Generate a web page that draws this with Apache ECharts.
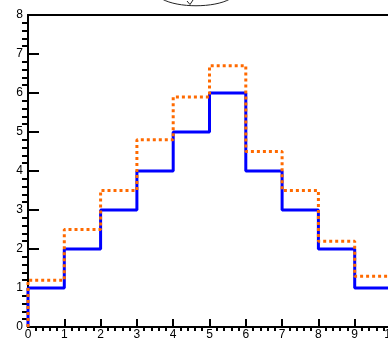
<!DOCTYPE html>
<html><head><meta charset="utf-8">
<script src="https://cdn.jsdelivr.net/npm/echarts@6/dist/echarts.min.js"></script>
<style>html,body{margin:0;padding:0;background:#fff}#c{width:388px;height:340px}</style>
</head><body><div id="c"></div>
<script>
const binEdges = [0,1,2,3,4,5,6,7,8,9,10];
const blueValues = [1,2,3,4,5,6,4,3,2,1];
const orangeValues = [1.2,2.5,3.5,4.8,5.9,6.7,4.5,3.5,2.2,1.3];
const xTicks = [0,1,2,3,4,5,6,7,8,9,10];
const yTicks = [0,1,2,3,4,5,6,7,8];

function histPoints(vals){
  const pts = [[binEdges[0],0]];
  vals.forEach((v,i)=>pts.push([binEdges[i],v]));
  pts.push([binEdges[binEdges.length-1], vals[vals.length-1]]);
  return pts;
}
const chart = echarts.init(document.getElementById('c'), null, {renderer:'canvas'});
const font = 'Liberation Sans, Arial, sans-serif';
const xMin = xTicks[0], xMax = xTicks[xTicks.length-1];
const yMin = yTicks[0], yMax = yTicks[yTicks.length-1];
const blackLine = {color:'#000',width:2};
chart.setOption({
  animation:false,
  grid:{left:28,top:15,width:363,height:312,show:false,containLabel:false,outerBoundsMode:'none'},
  xAxis:[
   {type:'value',position:'bottom',min:xMin,max:xMax,interval:1,
    axisLine:{show:true,onZero:false,lineStyle:blackLine},
    axisTick:{show:false},
    minorTick:{show:true,splitNumber:5,length:4,lineStyle:blackLine},
    splitLine:{show:false},minorSplitLine:{show:false},
    axisLabel:{show:true,color:'#000',fontFamily:font,fontSize:12,margin:2,showMaxLabel:true}},
   {type:'value',position:'top',min:xMin,max:xMax,
    axisLine:{show:true,onZero:false,lineStyle:blackLine},
    axisTick:{show:false},axisLabel:{show:false},splitLine:{show:false}},
   {type:'value',position:'bottom',offset:0,min:xMin,max:xMax,interval:1,
    axisLine:{show:true,onZero:false,lineStyle:blackLine},
    axisTick:{show:true,inside:true,length:8,lineStyle:blackLine},
    axisLabel:{show:false},splitLine:{show:false}}],
  yAxis:[
   {type:'value',position:'left',min:yMin,max:yMax,interval:1,
    axisLine:{show:true,onZero:false,lineStyle:blackLine},
    axisTick:{show:false},
    minorTick:{show:true,splitNumber:5,length:6,lineStyle:blackLine},
    splitLine:{show:false},minorSplitLine:{show:false},
    axisLabel:{color:'#000',fontFamily:font,fontSize:12,margin:5}},
   {type:'value',position:'left',offset:0,min:yMin,max:yMax,interval:1,
    axisLine:{show:true,onZero:false,lineStyle:blackLine},
    axisTick:{show:true,inside:true,length:11,lineStyle:blackLine},
    axisLabel:{show:false},splitLine:{show:false}}],
  series:[
    {type:'line',step:'end',data:histPoints(blueValues),symbol:'none',
     xAxisIndex:0,yAxisIndex:0,lineStyle:{color:'#0000ff',width:3},z:3},
    {type:'line',step:'end',data:histPoints(orangeValues),symbol:'none',
     xAxisIndex:0,yAxisIndex:0,lineStyle:{color:'#ff6a00',width:3,type:[3,3]},z:4}
  ],
  graphic:[
    {type:'bezierCurve',shape:{x1:162,y1:-1,x2:230,y2:-1,cpx1:178,cpy1:8,cpx2:214,cpy2:8},
     style:{stroke:'#222',lineWidth:1,fill:null}},
    {type:'polyline',shape:{points:[[187,1],[190,4.5],[193,0]]},style:{stroke:'#222',lineWidth:1,fill:null}}
  ]
});
</script></body></html>
